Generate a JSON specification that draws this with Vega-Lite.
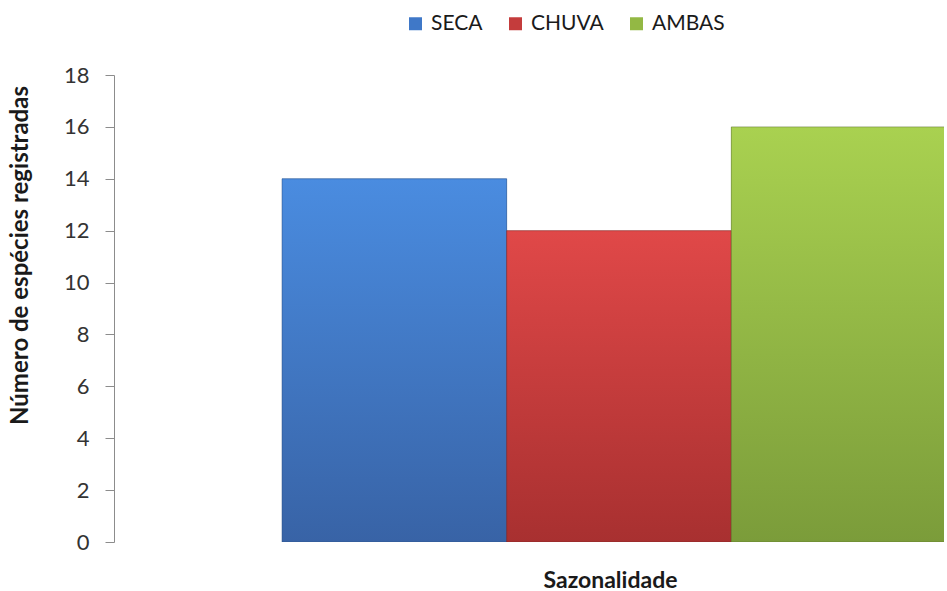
{
  "$schema": "https://vega.github.io/schema/vega-lite/v6.json",
  "autosize": "none",
  "width": 830,
  "height": 467,
  "padding": {"left": 114, "top": 75, "right": 3, "bottom": 49},
  "background": "white",
  "config": {
    "view": {"stroke": null},
    "font": "Lato",
    "axis": {"labelFont": "Lato", "titleFont": "Lato"},
    "legend": {"labelFont": "Lato"}
  },
  "data": {
    "values": [
      {"serie": "SECA", "especies": 14},
      {"serie": "CHUVA", "especies": 12},
      {"serie": "AMBAS", "especies": 16}
    ]
  },
  "encoding": {
    "x": {
      "field": "serie",
      "type": "nominal",
      "sort": ["SECA", "CHUVA", "AMBAS"],
      "scale": {"range": [0, 1010], "paddingInner": 0, "paddingOuter": 0.748},
      "axis": {
        "title": "Sazonalidade",
        "labels": false,
        "ticks": false,
        "domain": false,
        "titleFontSize": 23,
        "titleFontWeight": "bold",
        "titleColor": "#1a1a1a",
        "titleX": 496,
        "titlePadding": 27
      }
    },
    "y": {
      "field": "especies",
      "type": "quantitative",
      "scale": {"domain": [0, 18], "nice": false},
      "axis": {
        "title": "Número de espécies registradas",
        "values": [0, 2, 4, 6, 8, 10, 12, 14, 16, 18],
        "grid": false,
        "domainColor": "#8c8c8c",
        "tickColor": "#8c8c8c",
        "tickSize": 9,
        "labelFontSize": 22,
        "labelColor": "#333333",
        "labelPadding": 16,
        "titleFontSize": 24,
        "titleFontWeight": "bold",
        "titleColor": "#1a1a1a",
        "titleAngle": -90,
        "titleX": -94,
        "titleY": 180,
        "titleAlign": "center",
        "titleBaseline": "middle"
      }
    }
  },
  "layer": [
    {
      "mark": {"type": "bar", "clip": true},
      "encoding": {
        "color": {
          "field": "serie",
          "type": "nominal",
          "sort": ["SECA", "CHUVA", "AMBAS"],
          "scale": {"domain": ["SECA", "CHUVA", "AMBAS"], "range": ["#3f78c8", "#c43c3c", "#93b844"]},
          "legend": {
            "title": null,
            "orient": "none",
            "legendX": 291,
            "legendY": -62,
            "direction": "horizontal",
            "symbolType": "square",
            "symbolSize": 169,
            "symbolStrokeWidth": 0,
            "symbolOpacity": 1,
            "labelFontSize": 21,
            "labelColor": "#1a1a1a",
            "labelOffset": 5,
            "columnPadding": 22
          }
        }
      }
    },
    {
      "transform": [{"filter": "datum.serie === 'SECA'"}],
      "mark": {"type": "bar", "clip": true, "stroke": "#2a4f85", "strokeOpacity": 0.5, "strokeWidth": 1,
        "color": {"gradient": "linear", "x1": 0, "y1": 0, "x2": 0, "y2": 1, "stops": [{"offset": 0, "color": "#4a8ce0"}, {"offset": 1, "color": "#3863a6"}]}}
    },
    {
      "transform": [{"filter": "datum.serie === 'CHUVA'"}],
      "mark": {"type": "bar", "clip": true, "stroke": "#7a2020", "strokeOpacity": 0.5, "strokeWidth": 1,
        "color": {"gradient": "linear", "x1": 0, "y1": 0, "x2": 0, "y2": 1, "stops": [{"offset": 0, "color": "#e04848"}, {"offset": 1, "color": "#a83030"}]}}
    },
    {
      "transform": [{"filter": "datum.serie === 'AMBAS'"}],
      "mark": {"type": "bar", "clip": true, "stroke": "#5a7228", "strokeOpacity": 0.5, "strokeWidth": 1,
        "color": {"gradient": "linear", "x1": 0, "y1": 0, "x2": 0, "y2": 1, "stops": [{"offset": 0, "color": "#a9d150"}, {"offset": 1, "color": "#7b9c3a"}]}}
    }
  ]
}
